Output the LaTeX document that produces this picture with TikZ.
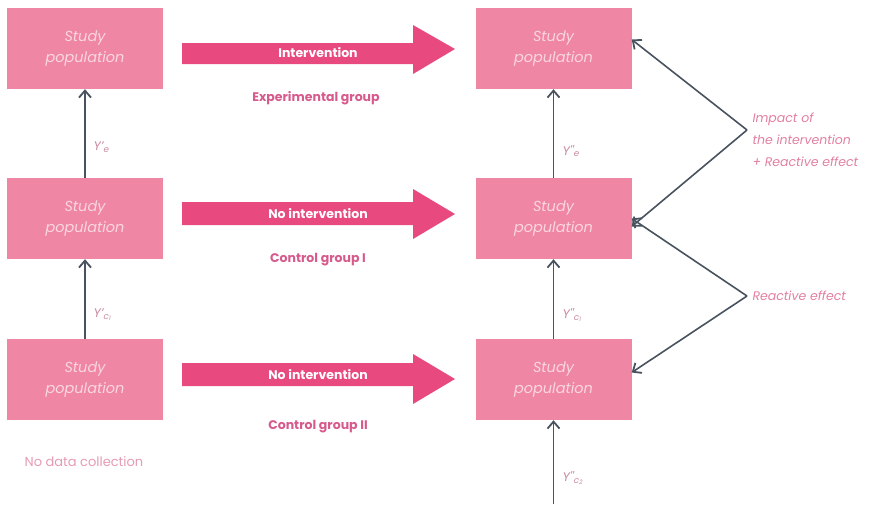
\documentclass[tikz,border=0pt]{standalone}
\usepackage{fontspec}
\setmainfont{Poppins}
\usetikzlibrary{arrows.meta}
\definecolor{boxpink}{HTML}{EF87A4}
\definecolor{boxtext}{HTML}{FAD6E1}
\definecolor{arrowpink}{HTML}{E8497F}
\definecolor{grouppink}{HTML}{D65A8C}
\definecolor{sidepink}{HTML}{E27FA1}
\definecolor{lightpink}{HTML}{E59AB3}
\definecolor{ylab}{HTML}{C98AA0}
\definecolor{linegray}{HTML}{48535F}
\tikzset{
  popbox/.style={rectangle, fill=boxpink, minimum width=156pt, minimum height=81pt,
    align=center, text=boxtext, font=\itshape\fontsize{14.5}{21}\selectfont},
  bigarrow/.style={fill=arrowpink},
  arrowtext/.style={text=white, font=\bfseries\fontsize{12.5}{14}\selectfont},
  grouplabel/.style={text=grouppink, font=\bfseries\fontsize{12.5}{14}\selectfont},
  sidelabel/.style={text=sidepink, align=left, anchor=west, font=\itshape\fontsize{12.5}{22}\selectfont},
  ylabel/.style={text=ylab, anchor=west, font=\itshape\fontsize{12.5}{14}\selectfont},
  conn/.style={draw=linegray, line width=1.6pt, -{Straight Barb[length=7pt,width=12pt,line width=1.8pt]}},
}
\begin{document}
\begin{tikzpicture}[x=1pt,y=-1pt]
\useasboundingbox (0,0) rectangle (881,504);
% boxes
\node[popbox] (L1) at (85,48.5) {Study\\population};
\node[popbox] (L2) at (85,218.5) {Study\\population};
\node[popbox] (L3) at (85,379.5) {Study\\population};
\node[popbox] (R1) at (553.5,48.5) {Study\\population};
\node[popbox] (R2) at (553.5,218.5) {Study\\population};
\node[popbox] (R3) at (553.5,379.5) {Study\\population};
% big arrows
\fill[bigarrow] (182,43) -- (413,43) -- (413,25) -- (455,49) -- (413,74) -- (413,64) -- (182,64) -- cycle;
\node[arrowtext] (A1) at (318,53) {Intervention};
\fill[bigarrow] (182,202) -- (413,202) -- (413,189) -- (455,214) -- (413,239) -- (413,225) -- (182,225) -- cycle;
\node[arrowtext] (A2) at (318,214) {No intervention};
\fill[bigarrow] (182,363) -- (413,363) -- (413,354) -- (455,379) -- (413,404) -- (413,386) -- (182,386) -- cycle;
\node[arrowtext] (A3) at (318,375) {No intervention};
% group labels
\node[grouplabel] (G1) at (316,98) {Experimental group};
\node[grouplabel] (G2) at (318,260) {Control group I};
\node[grouplabel] (G3) at (318,427) {Control group II};
\node[text=lightpink, font=\fontsize{13}{15}\selectfont] (ND) at (84,462) {No data collection};
% vertical arrows left
\draw[conn] (L2.north) -- (L1.south);
\draw[conn] (L3.north) -- (L2.south);
\node[ylabel] (YL1) at (90,147) {Y'\textsubscript{e}};
\node[ylabel] (YL2) at (90,315) {Y'\textsubscript{c\textsubscript{1}}};
% vertical arrows right
\draw[conn] (R2.north) -- (R1.south);
\draw[conn] (R3.north) -- (R2.south);
\coordinate (B) at (553.5,504);
\draw[conn] (B) -- (R3.south);
\node[ylabel] (YR1) at (559,151) {Y\textquotesingle\textquotesingle\textsubscript{e}};
\node[ylabel] (YR2) at (559,315) {Y\textquotesingle\textquotesingle\textsubscript{c\textsubscript{1}}};
\node[ylabel] (YR3) at (559,478) {Y\textquotesingle\textquotesingle\textsubscript{c\textsubscript{2}}};
% converging arrows
\coordinate (P1) at (747,130);
\coordinate (P2) at (747,296);
\draw[conn] (P1) -- ([yshift=9pt]R1.east);
\draw[conn] (P1) -- ([yshift=-8pt]R2.east);
\draw[conn] (P2) -- ([yshift=0pt]R2.east);
\draw[conn] (P2) -- ([yshift=7pt]R3.east);
\node[sidelabel] (S1) at (749,140) {Impact of\\the intervention\\+ Reactive effect};
\node[sidelabel] (S2) at (749,296) {Reactive effect};
\end{tikzpicture}
\end{document}
